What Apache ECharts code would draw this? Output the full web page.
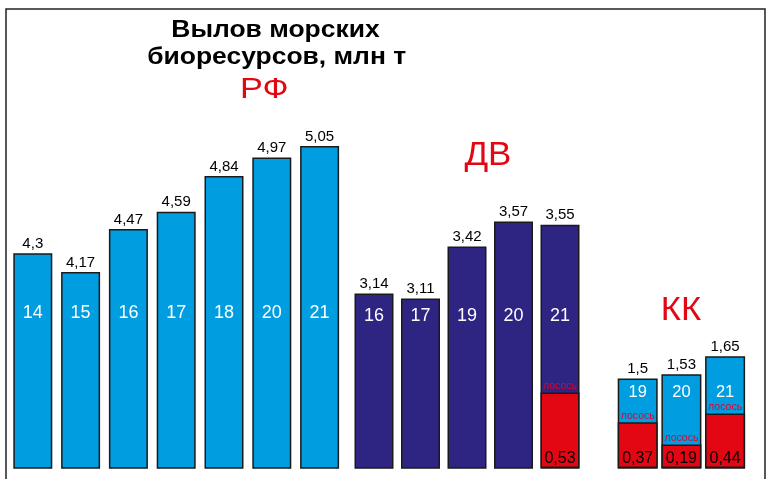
<!DOCTYPE html>
<html>
<head>
<meta charset="utf-8">
<script src="https://cdn.jsdelivr.net/npm/echarts@6/dist/echarts.min.js"></script>
<style>
html,body{margin:0;padding:0;background:#fff;}
#chart{width:770px;height:479px;}
</style>
</head>
<body>
<div id="chart"></div>
<script>
// ---- data ----
const titleLines = ['Вылов морских', 'биоресурсов, млн т'];
const groupNames = ['РФ', 'ДВ', 'КК'];
const salmonWord = 'лосось';

const rfYears = ['14', '15', '16', '17', '18', '20', '21'];
const rfCatch = [4.3, 4.17, 4.47, 4.59, 4.84, 4.97, 5.05];

const dvYears = ['16', '17', '19', '20', '21'];
const dvCatch = [3.14, 3.11, 3.42, 3.57, 3.55];
const dvSalmon = [null, null, null, null, 0.53];

const kkYears = ['19', '20', '21'];
const kkCatch = [1.5, 1.53, 1.65];
const kkSalmon = [0.37, 0.19, 0.44];

// ---- styles ----
const FONT = '"Liberation Sans", Arial, sans-serif';
const RED = '#e30613';
const BLUE = '#009ee0';
const NAVY = '#2e2482';
const BORDER = '#1a1a1a';
const comma = v => String(v).replace('.', ',');

const groups = [
  { years: rfYears, catchV: rfCatch, salmon: null, color: BLUE, left: 8.9, width: 334.6, barW: 39,
    min: 2.8, max: 6.0, sMax: 1, labelMargin: 146, yearSize: 18 },
  { years: dvYears, catchV: dvCatch, salmon: dvSalmon, color: NAVY, left: 350.75, width: 232.5, barW: 39,
    min: 2.1, max: 4.83, sMax: 3.214, labelMargin: 143, yearSize: 18 },
  { years: kkYears, catchV: kkCatch, salmon: kkSalmon, color: BLUE, left: 615.85, width: 131.1, barW: 40,
    min: 0.9, max: 3.974, sMax: 3.70, labelMargin: 67, yearSize: 16.5 }
];

const grid = [], xAxis = [], yAxis = [], series = [];
groups.forEach((g, i) => {
  grid.push({ left: g.left, width: g.width, top: 10, bottom: 11, containLabel: false });
  xAxis.push({
    type: 'category', gridIndex: i, data: g.years, z: 5,
    axisLine: { show: false }, axisTick: { show: false }, splitLine: { show: false },
    axisLabel: { inside: true, margin: g.labelMargin, color: '#fff', fontSize: g.yearSize, fontFamily: FONT }
  });
  const mainY = yAxis.length;
  yAxis.push({ type: 'value', gridIndex: i, min: g.min, max: g.max, show: false, splitLine: { show: false } });
  const salY = yAxis.length;
  yAxis.push({ type: 'value', gridIndex: i, min: 0, max: g.sMax, show: false, splitLine: { show: false } });

  series.push({
    type: 'bar', xAxisIndex: i, yAxisIndex: mainY, data: g.catchV, barWidth: g.barW, barGap: '-100%', z: 2,
    itemStyle: { color: g.color, borderColor: BORDER, borderWidth: 1.5 },
    label: { show: true, position: 'top', distance: 2, color: '#000', fontSize: 15, fontFamily: FONT,
      formatter: p => comma(p.value) }
  });
  if (g.salmon) {
    series.push({
      type: 'bar', xAxisIndex: i, yAxisIndex: salY, data: g.salmon, barWidth: g.barW, barGap: '-100%', z: 3,
      itemStyle: { color: RED, borderColor: BORDER, borderWidth: 1.5 },
      label: { show: true, position: 'insideBottom', distance: 1, color: '#000', fontSize: 16, fontFamily: FONT,
        formatter: p => comma(p.value) }
    });
    series.push({
      type: 'bar', xAxisIndex: i, yAxisIndex: salY, data: g.salmon, barWidth: g.barW, barGap: '-100%', z: 4,
      itemStyle: { color: 'rgba(0,0,0,0)', borderWidth: 0 },
      label: { show: true, position: 'top', distance: 1, color: '#e4002b', fontSize: 10.5, fontFamily: FONT,
        formatter: () => salmonWord }
    });
  }
});

const graphic = [
  { type: 'rect', z: 0, silent: true, shape: { x: 6, y: 9, width: 759, height: 490 },
    style: { fill: 'none', stroke: '#222', lineWidth: 1.5 } },
  { type: 'text', z: 10, x: 275.5, y: 31, scaleX: 1.15, style: { text: titleLines[0], font: 'bold 23px ' + FONT, fill: '#000',
    textAlign: 'center', textVerticalAlign: 'middle' } },
  { type: 'text', z: 10, x: 276.7, y: 57.5, scaleX: 1.15, style: { text: titleLines[1], font: 'bold 23px ' + FONT, fill: '#000',
    textAlign: 'center', textVerticalAlign: 'middle' } },
  { type: 'text', z: 10, x: 264.3, y: 89.5, scaleX: 1.18, style: { text: groupNames[0], font: '29px ' + FONT, fill: RED,
    textAlign: 'center', textVerticalAlign: 'middle' } },
  { type: 'text', z: 10, x: 487.9, y: 155.5, scaleX: 1.06, style: { text: groupNames[1], font: '33px ' + FONT, fill: RED,
    textAlign: 'center', textVerticalAlign: 'middle' } },
  { type: 'text', z: 10, x: 680.9, y: 310.9, scaleX: 1.05, style: { text: groupNames[2], font: '33px ' + FONT, fill: RED,
    textAlign: 'center', textVerticalAlign: 'middle' } }
];

const chart = echarts.init(document.getElementById('chart'), null, { renderer: 'canvas' });
chart.setOption({
  animation: false,
  backgroundColor: '#fff',
  grid, xAxis, yAxis, series, graphic
});
</script>
</body>
</html>
